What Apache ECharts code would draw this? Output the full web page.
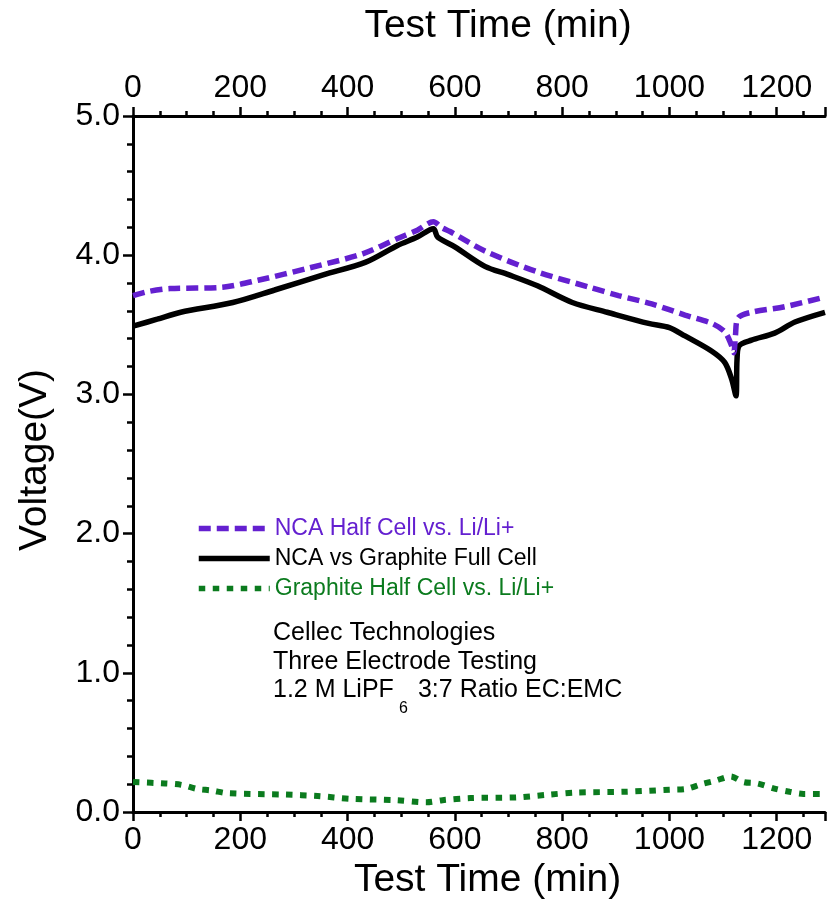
<!DOCTYPE html>
<html>
<head>
<meta charset="utf-8">
<script src="https://cdn.jsdelivr.net/npm/echarts@6/dist/echarts.min.js"></script>
<style>
html,body{margin:0;padding:0;background:#fff;}
#chart{width:828px;height:907px;}
</style>
</head>
<body>
<div id="chart"></div>
<script>
// ---- Data ----
const seriesNames = ['NCA Half Cell vs. Li/Li+', 'NCA vs Graphite Full Cell', 'Graphite Half Cell vs. Li/Li+'];

const ncaHalfTime    = [0, 30, 69, 167, 233, 330, 428, 493, 530, 560, 575, 591, 656, 754, 851, 905, 967, 1029, 1079, 1103, 1115, 1120, 1123, 1128, 1153, 1215, 1290];
const ncaHalfVoltage = [3.71, 3.74, 3.76, 3.77, 3.82, 3.91, 4.01, 4.12, 4.18, 4.24, 4.20, 4.17, 4.03, 3.88, 3.77, 3.71, 3.65, 3.57, 3.51, 3.45, 3.36, 3.30, 3.42, 3.55, 3.59, 3.63, 3.70];

const fullCellTime    = [0, 45, 89, 186, 264, 356, 434, 493, 530, 560, 568, 600, 656, 700, 754, 819, 884, 961, 1000, 1029, 1079, 1103, 1116, 1124, 1126, 1130, 1153, 1196, 1234, 1290];
const fullCellVoltage = [3.49, 3.54, 3.59, 3.66, 3.75, 3.86, 3.95, 4.07, 4.13, 4.19, 4.13, 4.06, 3.92, 3.86, 3.78, 3.66, 3.59, 3.51, 3.48, 3.42, 3.31, 3.23, 3.11, 2.99, 3.25, 3.35, 3.39, 3.44, 3.52, 3.59];

const graphiteTime    = [0, 60, 90, 120, 146, 176, 284, 344, 405, 491, 547, 577, 629, 715, 776, 827, 914, 1000, 1030, 1060, 1086, 1114, 1138, 1164, 1194, 1224, 1250, 1290];
const graphiteVoltage = [0.215, 0.205, 0.195, 0.165, 0.155, 0.135, 0.125, 0.115, 0.095, 0.085, 0.07, 0.085, 0.10, 0.105, 0.125, 0.14, 0.145, 0.16, 0.165, 0.20, 0.225, 0.255, 0.215, 0.205, 0.17, 0.145, 0.13, 0.13];

const xTickInterval = 200;
const yTickInterval = 1;

const annotationLines = ['Cellec Technologies', 'Three Electrode Testing'];
const formulaParts = ['1.2 M LiPF', '6', ' 3:7 Ratio EC:EMC'];

// ---- Styling ----
const FONT = "'Liberation Sans', Arial, sans-serif";
const PURPLE = '#6420D0';
const BLACK = '#000000';
const GREEN = '#0B7B1E';

function pairs(t, v) { return t.map((x, i) => [x, v[i]]); }

function xAxisCfg(pos) {
  return {
    type: 'value',
    position: pos,
    min: 0, max: 1290, interval: xTickInterval,
    name: 'Test Time (min)',
    nameLocation: 'middle',
    nameGap: pos === 'bottom' ? 45 : 70,
    nameTextStyle: {
      fontSize: 39, color: '#000', fontFamily: FONT,
      padding: pos === 'bottom' ? [0, 0, 0, 17] : [0, 0, 0, 38]
    },
    axisLine: { show: true, onZero: false, lineStyle: { color: '#000', width: 3 } },
    axisTick: { show: true, inside: false, length: 9, lineStyle: { color: '#000', width: 2.5 } },
    minorTick: { show: true, splitNumber: 4, length: 5, lineStyle: { color: '#000', width: 2.5 } },
    axisLabel: {
      fontSize: 32, color: '#000', fontFamily: FONT, margin: 12,
      formatter: v => (v % xTickInterval === 0 ? String(v) : '')
    },
    splitLine: { show: false },
    minorSplitLine: { show: false }
  };
}

const chart = echarts.init(document.getElementById('chart'), null, { renderer: 'canvas' });

const option = {
  animation: false,
  backgroundColor: '#fff',
  grid: { left: 133, right: 0, top: 116, bottom: 95, containLabel: false },
  xAxis: [xAxisCfg('bottom'), xAxisCfg('top')],
  yAxis: {
    type: 'value',
    min: 0, max: 5, interval: yTickInterval,
    name: 'Voltage(V)',
    nameLocation: 'middle',
    nameGap: 78,
    nameTextStyle: { fontSize: 39, color: '#000', fontFamily: FONT, padding: [0, 0, 0, 8] },
    axisLine: { show: true, lineStyle: { color: '#000', width: 3 } },
    axisTick: { show: true, inside: false, length: 10, lineStyle: { color: '#000', width: 2.5 } },
    minorTick: { show: true, splitNumber: 5, length: 6, lineStyle: { color: '#000', width: 2.5 } },
    axisLabel: { fontSize: 32, color: '#000', fontFamily: FONT, margin: 13, formatter: v => v.toFixed(1) },
    splitLine: { show: false }
  },
  legend: {
    orient: 'vertical',
    left: 196, top: 517,
    padding: 0,
    itemWidth: 71, itemHeight: 14, itemGap: 7,
    itemStyle: { opacity: 0 },
    lineStyle: { width: 5.5 },
    textStyle: { fontSize: 23, fontFamily: FONT },
    data: [
      { name: seriesNames[0], textStyle: { color: PURPLE } },
      { name: seriesNames[1], textStyle: { color: BLACK } },
      { name: seriesNames[2], textStyle: { color: GREEN } }
    ]
  },
  series: [
    {
      name: seriesNames[1], type: 'line', xAxisIndex: 0, symbol: 'none', smooth: 0.3,
      data: pairs(fullCellTime, fullCellVoltage),
      lineStyle: { color: BLACK, width: 5.5, type: 'solid' }, itemStyle: { color: BLACK }, z: 3
    },
    {
      name: seriesNames[0], type: 'line', xAxisIndex: 0, symbol: 'none', smooth: 0.3,
      data: pairs(ncaHalfTime, ncaHalfVoltage),
      lineStyle: { color: PURPLE, width: 5.5, type: [12, 6], cap: 'butt' }, itemStyle: { color: PURPLE }, z: 4
    },
    {
      name: seriesNames[2], type: 'line', xAxisIndex: 0, symbol: 'none', smooth: 0.3,
      data: pairs(graphiteTime, graphiteVoltage),
      lineStyle: { color: GREEN, width: 6, type: [6.5, 7.5], cap: 'butt' }, itemStyle: { color: GREEN }, z: 4
    }
  ],
  graphic: [
    { type: 'text', left: 273, top: 621, style: { text: annotationLines[0], font: '25px ' + FONT, fill: '#000' } },
    { type: 'text', left: 273, top: 650, style: { text: annotationLines[1], font: '25px ' + FONT, fill: '#000' } },
    { type: 'text', left: 273, top: 678, style: { text: formulaParts[0], font: '25px ' + FONT, fill: '#000' } },
    { type: 'text', left: 399, top: 701, style: { text: formulaParts[1], font: '16px ' + FONT, fill: '#000' } },
    { type: 'text', left: 411, top: 678, style: { text: formulaParts[2], font: '25px ' + FONT, fill: '#000' } }
  ]
};

chart.setOption(option);
</script>
</body>
</html>
